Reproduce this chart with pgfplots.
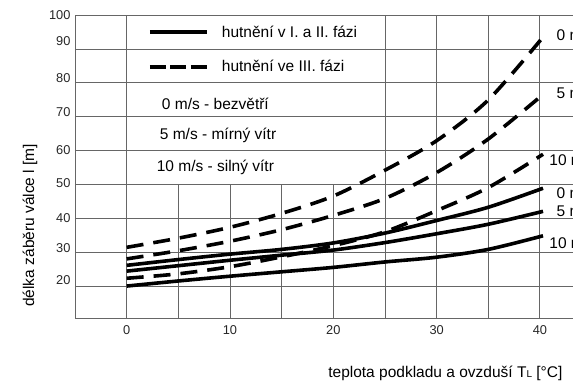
\documentclass[border=0pt]{standalone}
\usepackage{pgfplots}
\pgfplotsset{compat=1.18}
\usepackage{fontspec}
\setmainfont{Liberation Sans}
\pgfplotstableread{
x    d0    d5    d10   s0    s5    s10
0    31.6  28.2  22.5  26.3  24.6  20.2
5    34.3  30.6  23.8  28.0  26.2  21.7
10   37.5  33.4  25.9  29.6  27.8  23.1
15   41.6  36.8  28.8  31.0  29.3  24.4
20   46.7  41.0  32.1  32.9  30.8  25.7
25   54.3  46.0  36.2  35.8  33.0  27.3
30   63.0  53.6  42.4  39.5  35.6  28.7
35   75.0  63.5  49.2  43.4  38.4  31.0
40.3 93.5  76.6  59.0  49.0  42.2  35.0
}\data
\definecolor{gridc}{gray}{0.40}
\newcommand{\txt}{\fontsize{15.5}{16}\selectfont}
\newcommand{\tck}{\fontsize{12.8}{14}\selectfont}
\begin{document}
\begin{tikzpicture}
\useasboundingbox (-75pt,-68pt) rectangle (498pt,318pt);
\clip (-75pt,-68pt) rectangle (498pt,318pt);
\begin{axis}[
  at={(0pt,0pt)}, anchor=south west,
  width=516.6pt, height=303pt, scale only axis,
  xmin=-5, xmax=45, ymin=10.8, ymax=100,
  clip=false,
  axis line style={draw=gridc, line width=0.9pt},
  xtick={0,10,20,30,40},
  ytick={20,30,40,50,60,70,80,90,100},
  yticklabels={\raisebox{13pt}{20},\raisebox{9pt}{30},\raisebox{2pt}{40},\raisebox{4pt}{50},\raisebox{2pt}{60},\raisebox{10pt}{70},\raisebox{10pt}{80},\raisebox{16pt}{90},100},
  major tick length=0pt,
  /pgf/number format/assume math mode=true,
  xticklabel style={font=\tck, text=black!85, yshift=-4pt},
  yticklabel style={font=\tck, text=black!85, xshift=-1pt},
]
% grid
\foreach \yy in {20,30,40,50,60,70,80,90} {
  \edef\tmp{\noexpand\draw[gridc, line width=0.9pt] (axis cs:-5,\yy) -- (axis cs:45,\yy);}\tmp
}
\foreach \xx in {0,25,30,35,40} {
  \edef\tmp{\noexpand\draw[gridc, line width=0.9pt] (axis cs:\xx,10.8) -- (axis cs:\xx,100);}\tmp
}
\foreach \xx in {5,10,15,20} {
  \edef\tmp{\noexpand\draw[gridc, line width=0.9pt] (axis cs:\xx,10.8) -- (axis cs:\xx,50);}\tmp
}
% curves
\addplot[black, line width=3.6pt, smooth, dash pattern=on 17pt off 10pt] table[x=x, y=d0] {\data};
\addplot[black, line width=3.6pt, smooth, dash pattern=on 17pt off 10pt] table[x=x, y=d5] {\data};
\addplot[black, line width=3.6pt, smooth, dash pattern=on 17pt off 10pt] table[x=x, y=d10] {\data};
\addplot[black, line width=3.6pt, smooth] table[x=x, y=s0] {\data};
\addplot[black, line width=3.6pt, smooth] table[x=x, y=s5] {\data};
\addplot[black, line width=3.6pt, smooth] table[x=x, y=s10] {\data};
% legend
\draw[black, line width=4pt] (axis cs:2.25,94.9) -- (axis cs:7.77,94.9);
\draw[black, line width=4pt, dash pattern=on 16pt off 4.5pt] (axis cs:2.25,84.6) -- (axis cs:7.77,84.6);
\node[anchor=west, inner sep=0pt, font=\txt] at (axis cs:9.2,95.0) {hutnění v I. a II. fázi};
\node[anchor=west, inner sep=0pt, font=\txt] at (axis cs:9.2,84.9) {hutnění ve III. fázi};
\node[anchor=west, inner sep=0pt, font=\txt] at (axis cs:3.4,73.7) {0 m/s - bezvětří};
\node[anchor=west, inner sep=0pt, font=\txt] at (axis cs:3.2,64.6) {5 m/s - mírný vítr};
\node[anchor=west, inner sep=0pt, font=\txt] at (axis cs:2.9,55.2) {10 m/s - silný vítr};
% curve labels
\node[anchor=west, inner sep=0pt, font=\txt] at (axis cs:41.6,94.0) {0 m/s};
\node[anchor=west, inner sep=0pt, font=\txt] at (axis cs:41.6,77.0) {5 m/s};
\node[anchor=west, inner sep=0pt, font=\txt] at (axis cs:40.9,57.3) {10 m/s};
\node[anchor=west, inner sep=0pt, font=\txt] at (axis cs:41.6,47.5) {0 m/s};
\node[anchor=west, inner sep=0pt, font=\txt] at (axis cs:41.6,42.3) {5 m/s};
\node[anchor=west, inner sep=0pt, font=\txt] at (axis cs:40.9,32.9) {10 m/s};
% axis labels
\node[anchor=base west, inner sep=0pt, font=\txt] at (axis cs:19.5,10.8) [yshift=-59pt] {teplota podkladu a ovzduší T{\fontsize{10}{10}\selectfont L} [°C]};
\node[xshift=-45pt, rotate=90, anchor=center, inner sep=0pt, font=\txt] at (axis cs:-5,38.1) {délka záběru válce l [m]};
\end{axis}
\end{tikzpicture}
\end{document}
